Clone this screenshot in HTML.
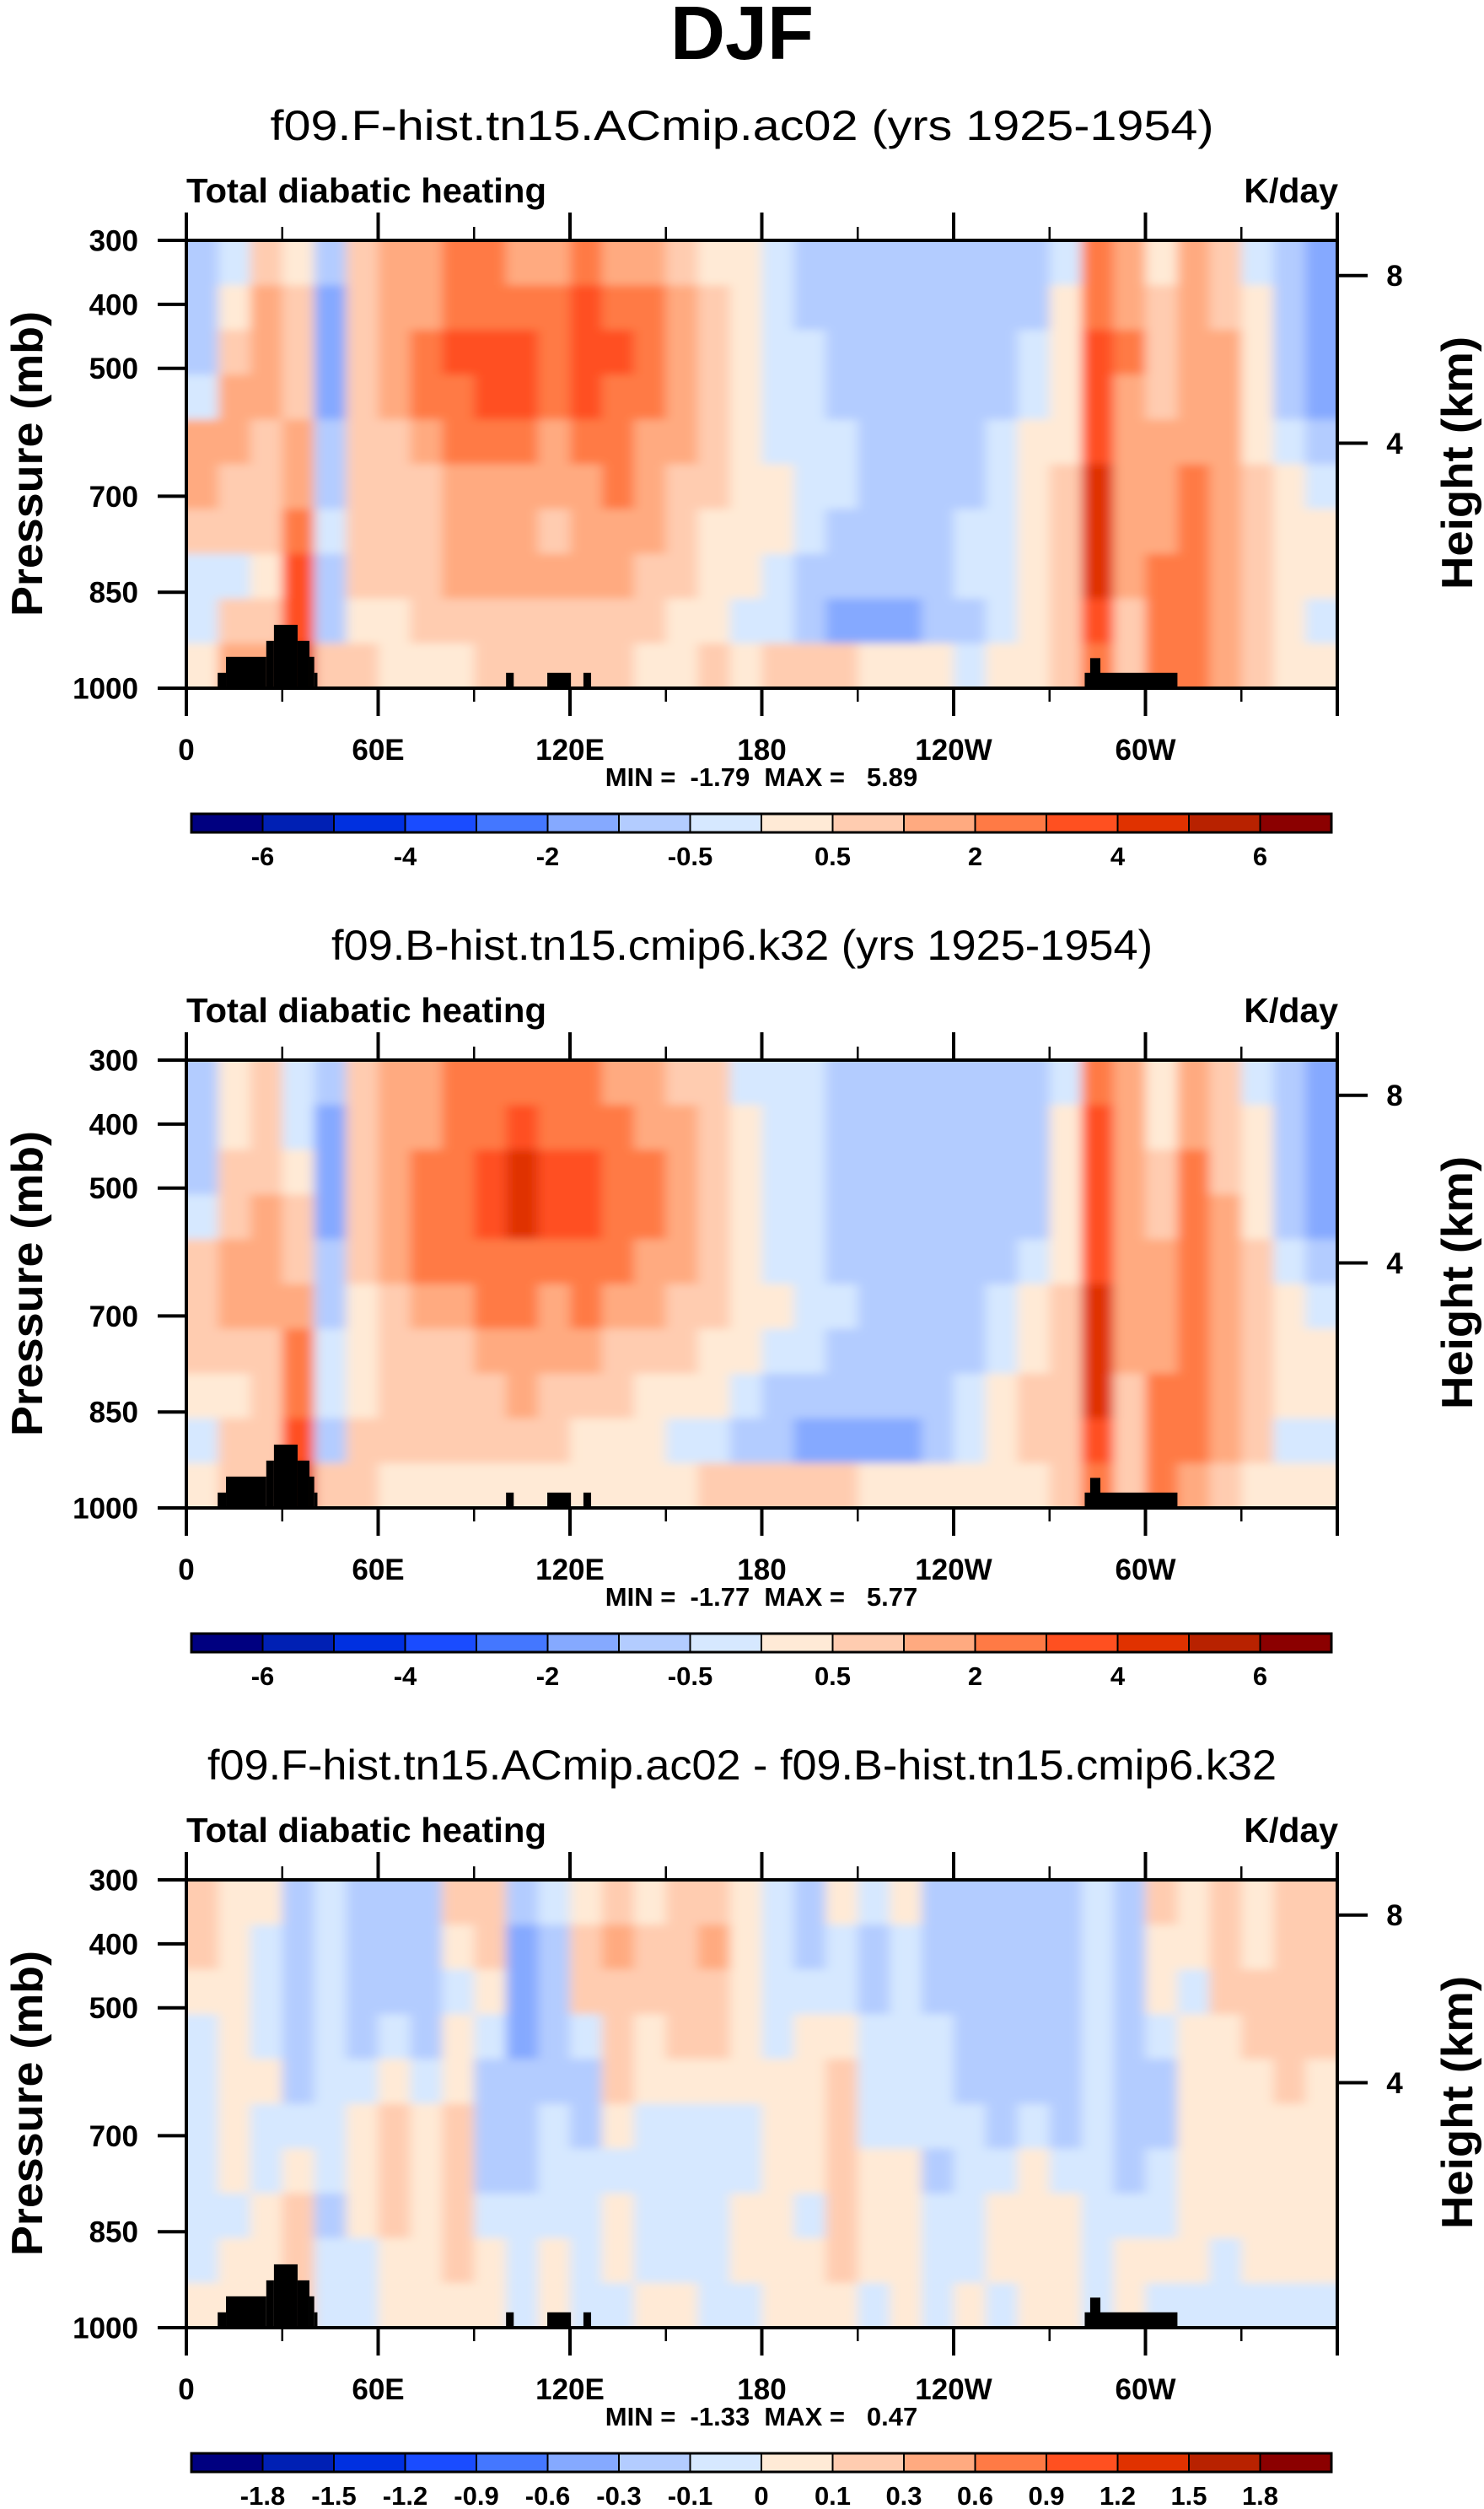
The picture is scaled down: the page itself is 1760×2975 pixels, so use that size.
<!DOCTYPE html>
<html><head><meta charset="utf-8"><style>
html,body{margin:0;padding:0;background:#fff;}
svg{display:block;font-family:"Liberation Sans",Arial,sans-serif;}
.pre{white-space:pre;}
</style></head><body>
<svg id="fig" width="1760" height="2975" viewBox="0 0 1760 2975" xmlns="http://www.w3.org/2000/svg">
<defs>
<filter id="soft" x="-2%" y="-2%" width="104%" height="104%"><feGaussianBlur stdDeviation="7 5"/></filter>
</defs>
<text x="880" y="70" font-size="90" font-weight="bold" text-anchor="middle">DJF</text>
</svg>
<script>
// ---------- data ----------
const lonCenters = [5,15,25,35,45,55,65,75,85,95,105,115,125,135,145,155,165,175,185,195,205,215,225,235,245,255,265,275,285,295,305,315,325,335,345,355];
const pLevels = [335,405,475,545,615,685,755,825,895,965];
const xTickLons = [0,60,120,180,240,300];
const xTickLabels = ["0","60E","120E","180","120W","60W"];
const pTicks = [300,400,500,700,850,1000];
const heightLabels = ["8","4"];
const heightPress = [355,617];
const levelsAbs = [-6,-5,-4,-3,-2,-1,-0.5,0,0.5,1,2,3,4,5,6];
const levelLabelsAbs = ["-6","","-4","","-2","","-0.5","","0.5","","2","","4","","6"];
const levelsDiff = [-1.8,-1.5,-1.2,-0.9,-0.6,-0.3,-0.1,0,0.1,0.3,0.6,0.9,1.2,1.5,1.8];
const levelLabelsDiff = ["-1.8","-1.5","-1.2","-0.9","-0.6","-0.3","-0.1","0","0.1","0.3","0.6","0.9","1.2","1.5","1.8"];
const palette = ["#000080","#0020b4","#0030e0","#1a4cff","#4477ff","#85a9ff","#b3ccff","#d6e8ff","#ffead6","#ffccb0","#ffaa80","#ff7a45","#ff5020","#e03200","#b82200","#8b0000"];
const topoLon0 = [9.8,12.4,25,27.4,34.8,38.5,40,100,112.9,124.2,281,282.7];
const topoLon1 = [12.4,25,27.4,34.8,38.5,40,41,102.4,120.3,126.6,310,285.9];
const topoPs   = [976,951,926,901,926,951,976,976,976,976,976,953];
const heat1 = [
[-0.7,-0.7,-0.7,-0.2,1.5,1.5,0.7,-0.2,-0.2,0.2],
[-0.2,0.2,0.7,1.5,1.5,0.7,0.7,-0.2,0.7,1.5],
[0.7,1.5,1.5,1.5,0.7,0.7,0.7,0.2,0.7,1.5],
[0.2,0.7,0.7,0.7,1.5,1.5,2.5,3.5,3.5,4.5],
[-0.7,-1.5,-1.5,-1.5,-0.7,-0.7,-0.2,-0.7,-0.7,0.7],
[0.7,0.7,0.7,0.7,0.7,0.7,0.7,0.7,0.2,0.7],
[1.5,1.5,1.5,1.5,0.7,0.7,0.7,0.7,0.2,0.2],
[1.5,1.5,2.5,2.5,1.5,0.7,0.7,0.7,0.7,0.2],
[2.5,2.5,3.5,2.5,2.5,1.5,1.5,1.5,0.7,0.2],
[2.5,2.5,3.5,3.5,2.5,1.5,1.5,1.5,0.7,0.7],
[1.5,2.5,3.5,3.5,2.5,1.5,1.5,1.5,0.7,0.7],
[1.5,2.5,2.5,2.5,1.5,1.5,0.7,1.5,0.7,0.7],
[2.5,3.5,3.5,3.5,2.5,1.5,1.5,1.5,0.7,0.7],
[1.5,2.5,3.5,2.5,2.5,2.5,1.5,1.5,0.7,0.7],
[1.5,2.5,2.5,2.5,1.5,1.5,1.5,0.7,0.7,0.2],
[0.7,1.5,1.5,1.5,1.5,0.7,0.7,0.7,0.2,0.2],
[0.2,0.7,0.7,0.7,0.7,0.7,0.2,0.2,0.2,0.7],
[0.2,0.2,0.2,0.2,0.2,0.2,0.2,0.2,-0.2,0.2],
[-0.2,-0.2,-0.2,-0.2,-0.2,0.2,0.2,-0.2,-0.2,0.7],
[-0.7,-0.7,-0.2,-0.2,-0.2,-0.2,-0.2,-0.7,-0.7,0.7],
[-0.7,-0.7,-0.7,-0.7,-0.2,-0.2,-0.7,-0.7,-1.5,0.7],
[-0.7,-0.7,-0.7,-0.7,-0.7,-0.7,-0.7,-0.7,-1.5,0.2],
[-0.7,-0.7,-0.7,-0.7,-0.7,-0.7,-0.7,-0.7,-1.5,0.2],
[-0.7,-0.7,-0.7,-0.7,-0.7,-0.7,-0.7,-0.7,-0.7,0.2],
[-0.7,-0.7,-0.7,-0.7,-0.7,-0.7,-0.2,-0.2,-0.7,-0.2],
[-0.7,-0.7,-0.7,-0.7,-0.2,-0.2,-0.2,-0.2,-0.2,0.2],
[-0.7,-0.7,-0.2,-0.2,0.2,0.2,0.2,0.2,0.2,0.2],
[-0.2,0.2,0.2,0.2,0.2,0.7,0.7,0.7,0.7,0.7],
[2.5,2.5,3.5,3.5,3.5,4.5,4.5,4.5,3.5,2.5],
[1.5,1.5,2.5,1.5,1.5,1.5,1.5,1.5,0.7,0.7],
[0.2,0.7,0.7,0.7,1.5,1.5,1.5,2.5,2.5,2.5],
[1.5,1.5,1.5,1.5,1.5,2.5,2.5,2.5,2.5,2.5],
[0.7,0.7,1.5,1.5,1.5,1.5,1.5,1.5,1.5,1.5],
[-0.2,0.2,0.2,0.2,0.2,0.7,0.7,0.7,0.7,0.7],
[-0.7,-0.7,-0.7,-0.7,-0.2,0.2,0.2,0.2,0.2,0.2],
[-1.5,-1.5,-1.5,-1.5,-0.7,-0.2,0.2,0.2,-0.2,0.2]];
const heat2 = [
[-0.7,-0.7,-0.7,-0.2,0.7,0.7,0.7,0.2,-0.2,0.2],
[0.2,0.2,0.7,0.7,1.5,1.5,0.7,0.2,0.7,0.7],
[0.7,0.7,0.7,1.5,1.5,1.5,0.7,0.7,0.7,0.7],
[-0.2,-0.2,0.2,0.7,0.7,1.5,2.5,2.5,3.5,4.5],
[-0.7,-1.5,-1.5,-1.5,-0.7,-0.7,-0.2,-0.2,-0.7,0.7],
[0.7,0.7,0.7,0.7,0.7,0.2,0.2,0.2,0.7,0.7],
[1.5,1.5,1.5,1.5,1.5,0.7,0.7,0.7,0.7,0.2],
[1.5,1.5,2.5,2.5,2.5,1.5,0.7,0.7,0.7,0.2],
[2.5,2.5,2.5,2.5,2.5,1.5,0.7,0.7,0.7,0.2],
[2.5,2.5,3.5,3.5,2.5,2.5,1.5,0.7,0.7,0.2],
[2.5,3.5,4.5,4.5,2.5,2.5,1.5,1.5,0.7,0.2],
[2.5,2.5,3.5,3.5,2.5,1.5,1.5,0.7,0.7,0.2],
[2.5,2.5,3.5,3.5,2.5,2.5,1.5,0.7,0.2,0.2],
[1.5,2.5,2.5,2.5,2.5,1.5,0.7,0.7,0.2,0.2],
[1.5,1.5,2.5,2.5,1.5,1.5,0.7,0.2,0.2,0.2],
[0.7,1.5,1.5,1.5,1.5,0.7,0.7,0.2,-0.2,0.2],
[0.7,0.7,0.7,0.7,0.7,0.7,0.2,0.2,-0.2,0.7],
[-0.2,0.2,0.2,0.2,0.2,0.2,0.2,-0.2,-0.7,0.7],
[-0.2,-0.2,-0.2,-0.2,-0.2,0.2,-0.2,-0.7,-0.7,0.7],
[-0.2,-0.2,-0.2,-0.2,-0.2,-0.2,-0.2,-0.7,-1.5,0.7],
[-0.7,-0.7,-0.7,-0.7,-0.7,-0.2,-0.7,-0.7,-1.5,0.7],
[-0.7,-0.7,-0.7,-0.7,-0.7,-0.7,-0.7,-0.7,-1.5,0.2],
[-0.7,-0.7,-0.7,-0.7,-0.7,-0.7,-0.7,-0.7,-1.5,0.2],
[-0.7,-0.7,-0.7,-0.7,-0.7,-0.7,-0.7,-0.7,-0.7,0.2],
[-0.7,-0.7,-0.7,-0.7,-0.7,-0.7,-0.7,-0.2,-0.2,0.2],
[-0.7,-0.7,-0.7,-0.7,-0.7,-0.2,-0.2,0.2,0.2,0.2],
[-0.7,-0.7,-0.7,-0.7,-0.2,0.2,0.2,0.7,0.7,0.2],
[-0.2,0.2,0.2,0.2,0.2,0.7,0.7,0.7,0.7,0.7],
[2.5,3.5,3.5,3.5,3.5,4.5,4.5,4.5,3.5,2.5],
[1.5,1.5,1.5,1.5,1.5,1.5,1.5,0.7,0.7,0.7],
[0.2,0.2,0.7,0.7,1.5,1.5,1.5,2.5,2.5,2.5],
[1.5,1.5,2.5,2.5,2.5,2.5,2.5,2.5,2.5,1.5],
[0.7,0.7,0.7,1.5,1.5,1.5,1.5,1.5,1.5,0.7],
[-0.2,0.2,0.2,0.2,0.7,0.7,0.7,0.7,0.7,0.2],
[-0.7,-0.7,-0.7,-0.7,-0.2,0.2,0.2,0.2,-0.2,0.2],
[-1.5,-1.5,-1.5,-1.5,-0.7,-0.2,0.2,0.2,-0.2,0.2]];
const heatDiff = [
[0.2,0.2,0.05,-0.05,-0.05,-0.05,-0.05,-0.05,-0.05,0.05],
[0.05,0.05,0.05,0.05,0.05,0.05,0.05,-0.05,0.05,0.05],
[0.05,-0.05,-0.05,-0.05,0.05,-0.05,-0.05,0.05,0.05,0.05],
[-0.2,-0.2,-0.2,-0.2,-0.2,-0.05,0.05,0.2,0.2,0.2],
[-0.05,-0.05,-0.05,-0.05,-0.05,-0.05,-0.05,-0.2,-0.05,-0.05],
[-0.2,-0.2,-0.2,-0.2,-0.05,0.05,0.05,0.05,-0.05,-0.05],
[-0.2,-0.2,-0.2,-0.05,0.05,0.2,0.2,0.2,0.05,0.05],
[-0.2,-0.2,-0.2,-0.2,-0.05,0.05,0.05,0.05,0.05,0.05],
[0.2,0.05,-0.05,0.05,0.05,0.2,0.2,0.2,0.2,0.05],
[0.2,0.2,0.05,-0.05,-0.2,-0.2,-0.2,-0.05,0.05,0.05],
[-0.2,-0.45,-0.45,-0.45,-0.2,-0.2,-0.2,-0.05,-0.05,-0.05],
[-0.05,-0.2,-0.2,-0.2,-0.2,-0.05,-0.05,-0.05,0.05,0.05],
[0.05,0.2,0.2,-0.05,-0.2,-0.2,-0.05,-0.05,-0.05,-0.05],
[0.2,0.45,0.2,0.2,0.2,0.05,-0.05,0.05,0.05,-0.05],
[0.05,0.2,0.2,0.05,0.05,-0.05,-0.05,-0.05,-0.05,0.05],
[0.2,0.2,0.2,0.2,0.05,-0.05,-0.05,-0.05,-0.05,0.05],
[0.2,0.45,0.2,0.2,0.05,-0.05,-0.05,-0.05,-0.05,-0.05],
[0.05,0.05,0.05,0.05,0.05,-0.05,-0.05,0.05,0.05,-0.05],
[-0.05,-0.05,-0.05,-0.05,0.05,0.05,0.05,0.05,0.05,0.05],
[-0.2,-0.2,-0.05,0.05,0.05,0.05,0.05,-0.05,0.05,0.05],
[0.05,-0.05,-0.05,0.05,0.2,0.2,0.2,0.2,0.2,0.05],
[-0.05,-0.2,-0.2,-0.05,-0.05,-0.05,0.05,0.05,0.05,-0.05],
[0.05,-0.05,-0.05,-0.05,-0.05,-0.05,0.05,0.05,0.05,0.05],
[-0.2,-0.2,-0.2,-0.05,-0.05,-0.05,-0.2,-0.05,-0.05,-0.05],
[-0.2,-0.2,-0.2,-0.2,-0.2,-0.05,-0.05,-0.05,-0.05,0.05],
[-0.2,-0.2,-0.2,-0.2,-0.2,-0.2,-0.05,0.05,0.05,-0.05],
[-0.2,-0.2,-0.2,-0.2,-0.2,-0.05,0.05,0.05,0.05,0.05],
[-0.2,-0.2,-0.2,-0.2,-0.2,-0.2,-0.05,0.05,0.05,0.05],
[-0.05,-0.05,-0.05,-0.05,-0.05,-0.05,-0.05,-0.05,-0.05,-0.05],
[-0.2,-0.2,-0.2,-0.2,-0.2,-0.2,-0.2,-0.05,0.05,0.05],
[0.2,0.05,0.05,-0.05,-0.2,-0.2,-0.05,-0.05,0.05,-0.05],
[0.05,0.05,-0.05,0.05,0.05,0.05,0.05,0.05,0.05,-0.05],
[0.2,0.2,0.2,0.05,0.05,0.05,0.05,0.05,-0.05,-0.05],
[0.05,0.05,0.2,0.2,0.05,0.05,0.05,0.05,0.05,-0.05],
[0.2,0.2,0.2,0.2,0.2,0.05,0.05,0.05,0.05,-0.05],
[0.2,0.2,0.2,0.2,0.05,0.05,0.05,0.05,0.05,-0.05]];
const subtitles = ["f09.F-hist.tn15.ACmip.ac02 (yrs 1925-1954)","f09.B-hist.tn15.cmip6.k32 (yrs 1925-1954)","f09.F-hist.tn15.ACmip.ac02 - f09.B-hist.tn15.cmip6.k32"];
const minVals = ["-1.79","-1.77","-1.33"];
const maxVals = ["5.89","5.77","0.47"];

// ---------- drawing ----------
const NS = "http://www.w3.org/2000/svg";
const svg = document.getElementById("fig");
const defs = svg.querySelector("defs");
const PL = 221, PR = 1586, PT0 = 285, PB0 = 816, DY = 972;
const subWidths = [1119, 974, 1268];
function mk(tag, attrs, parent) {
  const e = document.createElementNS(NS, tag);
  for (const k in attrs) e.setAttribute(k, attrs[k]);
  (parent || svg).appendChild(e);
  return e;
}
function xScale(lon) { return PL + lon / 360 * (PR - PL); }
function yScale(p, off) { return PT0 + off + (p - 300) / 700 * (PB0 - PT0); }
function colorIdx(v, lv) { let i = 0; while (i < lv.length && v >= lv[i]) i++; return i; }

const datasets = [heat1, heat2, heatDiff];
const levelSets = [levelsAbs, levelsAbs, levelsDiff];
const labelSets = [levelLabelsAbs, levelLabelsAbs, levelLabelsDiff];
const dLon = 10, dP = 70;

for (let k = 0; k < 3; k++) {
  const off = k * DY;
  const g = mk("g", {});
  
  
  const st = mk("text", {x: 880, y: 166 + off, "font-size": 50, "text-anchor": "middle", textLength: subWidths[k], lengthAdjust: "spacingAndGlyphs"}, g);
  st.textContent = subtitles[k];
  
  
  const lt = mk("text", {x: 221, y: 240 + off, "font-size": 41, "font-weight": "bold", textLength: 427, lengthAdjust: "spacingAndGlyphs"}, g);
  lt.textContent = "Total diabatic heating";
  
  
  const ut = mk("text", {x: 1587, y: 240 + off, "font-size": 41, "font-weight": "bold", "text-anchor": "end"}, g);
  ut.textContent = "K/day";
  
  

  // clip
  const cp = mk("clipPath", {id: "clip" + k}, defs);
  mk("rect", {x: PL, y: PT0 + off, width: PR - PL, height: PB0 - PT0}, cp);
  const clipG = mk("g", {"clip-path": "url(#clip" + k + ")"}, g);
  
  
  const cg = mk("g", {filter: "url(#soft)"}, clipG);
  
  
  const data = datasets[k], lv = levelSets[k];
  for (let i = 0; i < lonCenters.length; i++) {
    let x0 = xScale(lonCenters[i] - dLon / 2), x1 = xScale(lonCenters[i] + dLon / 2);
    if (i === 0) x0 -= 20;
    if (i === lonCenters.length - 1) x1 += 20;
    for (let j = 0; j < pLevels.length; j++) {
      let y0 = yScale(pLevels[j] - dP / 2, off), y1 = yScale(pLevels[j] + dP / 2, off);
      if (j === 0) y0 -= 20;
      if (j === pLevels.length - 1) y1 += 20;
      const r = mk("rect", {x: x0, y: y0, width: x1 - x0 + 0.6, height: y1 - y0 + 0.6, fill: palette[colorIdx(data[i][j], lv)]}, cg);
      
      
    }
  }
  for (let t = 0; t < topoLon0.length; t++) {
    const y0 = yScale(topoPs[t], off);
    const r = mk("rect", {x: xScale(topoLon0[t]), y: y0, width: xScale(topoLon1[t]) - xScale(topoLon0[t]), height: yScale(1000, off) - y0, fill: "#000"}, g);
    
    
  }
  const fr = mk("rect", {x: PL, y: PT0 + off, width: PR - PL, height: PB0 - PT0, fill: "none", stroke: "#000", "stroke-width": 4}, g);
  
  
  for (let lon = 0; lon <= 360; lon += 30) {
    const major = lon % 60 === 0, x = xScale(lon), len = major ? 33 : 16;
    const t1 = mk("line", {x1: x, x2: x, y1: PT0 + off, y2: PT0 + off - len, stroke: "#000", "stroke-width": major ? 4 : 2.5}, g);
    
    
    const t2 = mk("line", {x1: x, x2: x, y1: PB0 + off, y2: PB0 + off + len, stroke: "#000", "stroke-width": major ? 4 : 2.5}, g);
    
    
  }
  for (let i = 0; i < xTickLons.length; i++) {
    const t = mk("text", {x: xScale(xTickLons[i]), y: 901 + off, "font-size": 35, "font-weight": "bold", "text-anchor": "middle"}, g);
    t.textContent = xTickLabels[i];
    
    
  }
  for (let i = 0; i < pTicks.length; i++) {
    const y = yScale(pTicks[i], off);
    const l = mk("line", {x1: 187, x2: PL, y1: y, y2: y, stroke: "#000", "stroke-width": 4}, g);
    
    
    const t = mk("text", {x: 164, y: y + 12.5, "font-size": 35, "font-weight": "bold", "text-anchor": "end"}, g);
    t.textContent = String(pTicks[i]);
    
    
  }
  for (let i = 0; i < heightPress.length; i++) {
    const y = yScale(heightPress[i], off);
    const l = mk("line", {x1: PR, x2: 1622, y1: y, y2: y, stroke: "#000", "stroke-width": 4}, g);
    
    
    const t = mk("text", {x: 1654, y: y + 12.5, "font-size": 35, "font-weight": "bold", "text-anchor": "middle"}, g);
    t.textContent = heightLabels[i];
    
    
  }
  const ya = mk("text", {x: 0, y: 0, "font-size": 52, "font-weight": "bold", "text-anchor": "middle", transform: "translate(50," + (550 + off) + ") rotate(-90)", textLength: 362, lengthAdjust: "spacingAndGlyphs"}, g);
  ya.textContent = "Pressure (mb)";
  
  
  const ha = mk("text", {x: 0, y: 0, "font-size": 52, "font-weight": "bold", "text-anchor": "middle", transform: "translate(1746," + (549 + off) + ") rotate(-90)", textLength: 300, lengthAdjust: "spacingAndGlyphs"}, g);
  ha.textContent = "Height (km)";
  
  
  const mm = mk("text", {x: 903, y: 932 + off, "font-size": 31, "font-weight": "bold", "text-anchor": "middle", "class": "pre"}, g);
  mm.textContent = "MIN =  " + minVals[k] + "  MAX =   " + maxVals[k];
  
  

  const cb = mk("g", {}, g);
  
  
  const CL = 227, CR = 1579, bw = (CR - CL) / palette.length;
  for (let i = 0; i < palette.length; i++) {
    const r = mk("rect", {x: CL + i * bw, y: 965 + off, width: bw, height: 22, fill: palette[i], stroke: "#000", "stroke-width": 2}, cb);
    
    
  }
  const cbf = mk("rect", {x: CL, y: 965 + off, width: CR - CL, height: 22, fill: "none", stroke: "#000", "stroke-width": 3}, cb);
  
  
  const labs = labelSets[k];
  for (let i = 0; i < labs.length; i++) {
    if (!labs[i]) continue;
    const t = mk("text", {x: CL + (i + 1) * bw, y: 1026 + off, "font-size": 31, "font-weight": "bold", "text-anchor": "middle"}, cb);
    t.textContent = labs[i];
    
    
  }
}
</script>
</body></html>
